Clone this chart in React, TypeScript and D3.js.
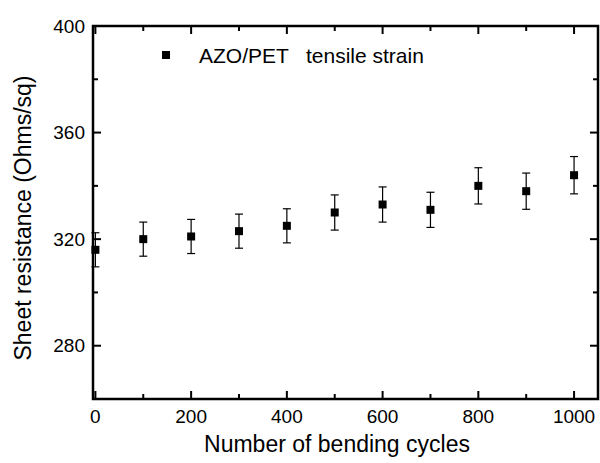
import React from "react";
import * as d3 from "d3";

const cycles = [0, 100, 200, 300, 400, 500, 600, 700, 800, 900, 1000];
const resistance = [316, 320, 321, 323, 325, 330, 333, 331, 340, 338, 344];
const errors = [6.4, 6.4, 6.4, 6.4, 6.4, 6.6, 6.6, 6.6, 6.8, 6.8, 7];
const xTicks = [0, 200, 400, 600, 800, 1000];
const xMinorTicks = [100, 300, 500, 700, 900];
const yTicks = [280, 320, 360, 400];
const yMinorTicks = [300, 340, 380];
const legendLabel = "AZO/PET   tensile strain";
const xTitle = "Number of bending cycles";
const yTitle = "Sheet resistance (Ohms/sq)";

const W = 600;
const H = 463;
const left = 93;
const right = 598;
const top = 26;
const bottom = 399;
const font = "'Liberation Sans', Arial, Helvetica, sans-serif";

export default function App() {
  const x = d3.scaleLinear().domain([-5, 1050]).range([left, right]);
  const y = d3.scaleLinear().domain([260, 400]).range([bottom, top]);
  const major = 8;
  const minor = 5;
  const sq = 8;
  const cap = 4;

  return (
    <svg
      width={W}
      height={H}
      style={{ position: "absolute", left: 0, top: 0, background: "#fff" }}
      fontFamily={font}
    >
      <rect x={0} y={0} width={W} height={H} fill="#fff" />
      {/* ticks */}
      <g stroke="#000" strokeWidth={2}>
        {xTicks.map((t) => (
          <g key={"xt" + t}>
            <line x1={x(t)} x2={x(t)} y1={bottom} y2={bottom - major} />
            <line x1={x(t)} x2={x(t)} y1={top} y2={top + major} />
          </g>
        ))}
        {xMinorTicks.map((t) => (
          <g key={"xm" + t}>
            <line x1={x(t)} x2={x(t)} y1={bottom} y2={bottom - minor} />
            <line x1={x(t)} x2={x(t)} y1={top} y2={top + minor} />
          </g>
        ))}
        {yTicks.map((t) => (
          <g key={"yt" + t}>
            <line x1={left} x2={left + major} y1={y(t)} y2={y(t)} />
            <line x1={right} x2={right - major} y1={y(t)} y2={y(t)} />
          </g>
        ))}
        {yMinorTicks.map((t) => (
          <g key={"ym" + t}>
            <line x1={left} x2={left + minor} y1={y(t)} y2={y(t)} />
            <line x1={right} x2={right - minor} y1={y(t)} y2={y(t)} />
          </g>
        ))}
      </g>
      {/* frame */}
      <rect
        x={left}
        y={top}
        width={right - left}
        height={bottom - top}
        fill="none"
        stroke="#000"
        strokeWidth={2.5}
      />
      {/* tick labels */}
      <g fontSize={19} fill="#000">
        {xTicks.map((t) => (
          <text key={"xl" + t} x={x(t)} y={423} textAnchor="middle">
            {t}
          </text>
        ))}
        {yTicks.map((t) => (
          <text key={"yl" + t} x={85} y={y(t)} dy="0.35em" textAnchor="end">
            {t}
          </text>
        ))}
      </g>
      {/* titles */}
      <text x={337} y={452} fontSize={23} textAnchor="middle" fill="#000">
        {xTitle}
      </text>
      <text
        transform={`translate(31, 218) rotate(-90)`}
        fontSize={23}
        textAnchor="middle"
        fill="#000"
      >
        {yTitle}
      </text>
      {/* error bars and points */}
      <g stroke="#000" strokeWidth={1.2}>
        {cycles.map((c, i) => {
          const cx = x(c);
          const y1 = y(resistance[i] + errors[i]);
          const y2 = y(resistance[i] - errors[i]);
          return (
            <g key={"e" + c}>
              <line x1={cx} x2={cx} y1={y1} y2={y2} />
              <line x1={cx - cap} x2={cx + cap} y1={y1} y2={y1} />
              <line x1={cx - cap} x2={cx + cap} y1={y2} y2={y2} />
            </g>
          );
        })}
      </g>
      <g fill="#000">
        {cycles.map((c, i) => (
          <rect
            key={"p" + c}
            x={x(c) - sq / 2}
            y={y(resistance[i]) - sq / 2}
            width={sq}
            height={sq}
          />
        ))}
      </g>
      {/* legend */}
      <rect x={166 - sq / 2} y={55 - sq / 2} width={sq} height={sq} fill="#000" />
      <text x={199} y={63} fontSize={21} fill="#000" style={{ whiteSpace: "pre" }}>
        {legendLabel}
      </text>
    </svg>
  );
}
